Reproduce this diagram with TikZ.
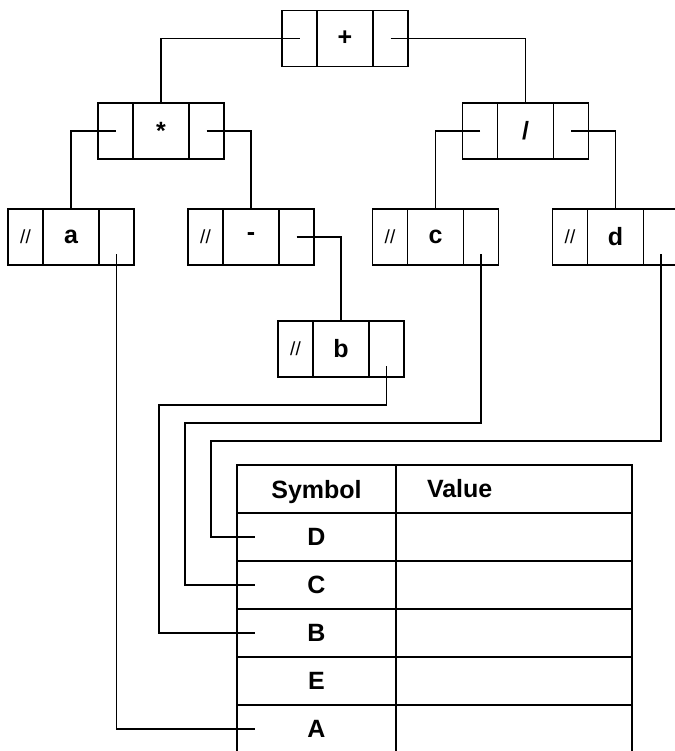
\documentclass[tikz,border=0pt]{standalone}
\usepackage{fontspec}
\setmainfont{Liberation Sans}
\usetikzlibrary{positioning}
\begin{document}
\begin{tikzpicture}[x=1pt, y=-1pt, line width=1.4pt, node distance=0pt, font=\bfseries\fontsize{25}{28}\selectfont, cell/.style={draw, inner sep=0pt, outer sep=0pt, minimum height=56pt}, val/.style={cell, minimum width=56pt}, ptr/.style={cell, minimum width=35pt}, nil/.style={ptr, font=\mdseries\fontsize{19}{20}\selectfont}, sym/.style={draw, inner sep=0pt, outer sep=0pt, minimum width=159pt, minimum height=48pt}, entry/.style={draw, inner sep=0pt, outer sep=0pt, minimum width=236pt, minimum height=48pt}]
\useasboundingbox (0,0) rectangle (674,751);
\node[val] (plus) at (345,38.5) {+}; \node[ptr, left=of plus] (plusL) {}; \node[ptr, right=of plus] (plusR) {};
\node[val] (times) at (161,131) {*}; \node[ptr, left=of times] (timesL) {}; \node[ptr, right=of times] (timesR) {};
\node[val] (div) at (525.5,131) {/}; \node[ptr, left=of div] (divL) {}; \node[ptr, right=of div] (divR) {};
\node[val] (a) at (71,237) {a}; \node[nil, left=of a] (aN) {//}; \node[ptr, right=of a] (aR) {};
\node[val] (minus) at (251,237) {-}; \node[nil, left=of minus] (minusN) {//}; \node[ptr, right=of minus] (minusR) {};
\node[val] (c) at (435.5,237) {c}; \node[nil, left=of c] (cN) {//}; \node[ptr, right=of c] (cR) {};
\node[val] (d) at (615.5,237) {d}; \node[nil, left=of d] (dN) {//}; \node[ptr, right=of d] (dR) {};
\node[val] (b) at (341,349) {b}; \node[nil, left=of b] (bN) {//}; \node[ptr, right=of b] (bR) {};
\node[sym, text depth=0pt] (symHead) at (316.5,489) {Symbol}; \node[entry, right=of symHead, text width=174pt, inner xsep=31pt, align=left] (valHead) {Value};
\node[sym, below=of symHead] (symD) {D}; \node[entry, right=of symD] (valD) {};
\node[sym, below=of symD] (symC) {C}; \node[entry, right=of symC] (valC) {};
\node[sym, below=of symC] (symB) {B}; \node[entry, right=of symB] (valB) {};
\node[sym, below=of symB] (symE) {E}; \node[entry, right=of symE] (valE) {};
\node[sym, below=of symE] (symA) {A}; \node[entry, right=of symA] (valA) {};
\draw (plusL.center) -| (times.north); \draw (plusR.center) -| (div.north); \draw (timesL.center) -| (a.north); \draw (timesR.center) -| (minus.north); \draw (divL.center) -| (c.north); \draw (divR.center) -| (d.north); \draw (minusR.center) -| (b.north);
\draw ([yshift=11pt]aR.south) |- ([xshift=18pt]symA.west); \draw ([yshift=11pt]bR.south) |- (159,405) |- ([xshift=18pt]symB.west); \draw ([yshift=11pt]cR.south) |- (185,423) |- ([xshift=18pt]symC.west); \draw ([yshift=11pt]dR.south) |- (211,441) |- ([xshift=18pt]symD.west);
\end{tikzpicture}
\end{document}
